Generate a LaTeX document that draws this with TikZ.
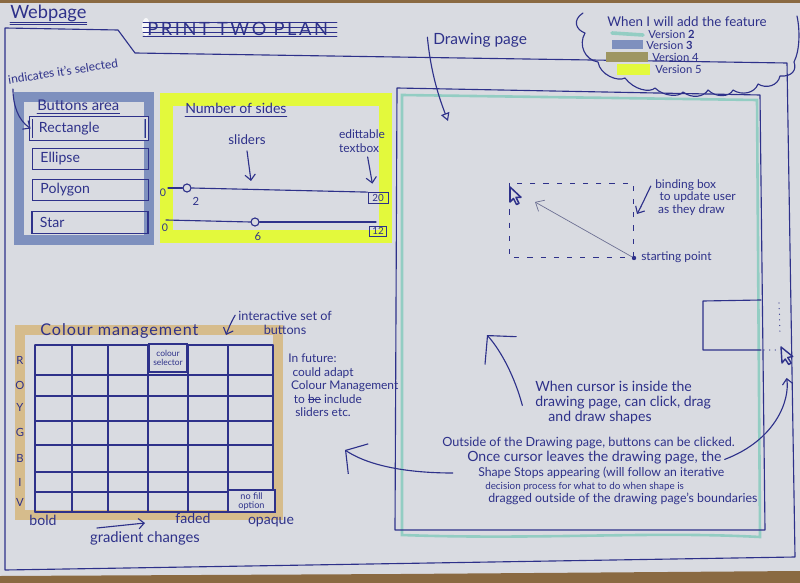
\documentclass[tikz,border=0pt]{standalone}
\usepackage{fontspec}
\setmainfont{Lato}
\usetikzlibrary{arrows.meta}

\definecolor{paper}{HTML}{D9DBE1}
\definecolor{ink}{HTML}{2E318A}
\definecolor{wood}{HTML}{8A6A42}
\definecolor{mteal}{HTML}{93CDC3}
\definecolor{mblue}{HTML}{7E90BE}
\definecolor{molive}{HTML}{9E9662}
\definecolor{myellow}{HTML}{E3F93C}
\definecolor{mtan}{HTML}{D6BC8C}
\definecolor{pencil}{HTML}{6D7093}

% crossed-out word
\newcommand\strikeword[1]{\setbox0\hbox{#1}\rlap{\rule[0.3em]{\wd0}{0.5pt}}#1}

\tikzset{
  pen/.style={draw=ink, line width=0.8pt, line cap=round, line join=round},
  note/.style={text=ink, inner sep=0pt},
  tip/.style={-{Straight Barb[length=0.14cm,width=0.26cm]}},
  bigv/.style={-{Straight Barb[length=0.5cm,width=1.05cm]}},
  midv/.style={-{Straight Barb[length=0.38cm,width=0.9cm]}},
  button/.style={draw=ink, line width=0.8pt, text=ink, minimum height=0.53cm,
    text width=2.5cm, inner xsep=0.2cm, inner ysep=0pt, align=left,
    font=\fontsize{10}{12}\selectfont},
  valbox/.style={draw=ink, line width=0.7pt, text=ink, inner sep=0pt,
    font=\fontsize{7}{8}\selectfont},
  knob/.style={circle, draw=ink, line width=0.8pt, fill=paper,
    minimum size=0.2cm, inner sep=0pt},
  legtext/.style={note, anchor=west, font=\fontsize{8}{9}\selectfont},
}

\begin{document}
\begin{tikzpicture}[x=0.025cm, y=-0.025cm]
\useasboundingbox (0,0) rectangle (800,583);
% sheet and desk
\fill[paper] (0,0) rectangle (800,583);
\fill[wood] (0,0) rectangle (800,3);
\fill[wood] (0,576) -- (400,574) -- (800,571) -- (800,583) -- (0,583) -- cycle;

% ---------- page frame with tab ----------
\draw[pen] (118,30) -- (5,28) -- (5,570) -- (795,557) -- (787,63) -- (135,53) -- cycle;
\node[note, anchor=base west, font=\fontsize{13}{15}\selectfont] (web) at (10,19) {Webpage};
\draw[pen, line width=0.6pt] ([yshift=-2.5pt]web.base west) -- ([yshift=-2.5pt]web.base east);
\draw[pen, line width=0.6pt] ([yshift=-4pt]web.base west) -- ([yshift=-4pt]web.base east);

% crossed-out heading
\fill[white, opacity=0.8] (146,27) ellipse (4 and 9);
\node[note, anchor=west, font=\fontsize{13}{15}\selectfont] (plan) at (147,29)
  {\addfontfeature{LetterSpace=14}PRINT TWO PLAN};
\foreach \yy in {22,27,32,36}
  \draw[pen, line width=0.6pt] (143,\yy) -- (337,\yy);

% ---------- legend cloud ----------
\draw[pen] (583,13) .. controls (572,20) and (576,30) .. (585,33)
  .. controls (578,45) and (585,60) .. (598,62)
  .. controls (600,75) and (618,82) .. (625,78)
  .. controls (634,90) and (650,93) .. (655,88)
  .. controls (664,97) and (680,97) .. (683,92)
  .. controls (692,99) and (704,97) .. (708,90)
  .. controls (716,98) and (730,97) .. (733,90)
  .. controls (742,96) and (755,93) .. (758,84)
  .. controls (766,89) and (778,86) .. (780,76)
  .. controls (792,77) and (797,70) .. (794,62)
  .. controls (800,50) and (800,30) .. (797,16);
\node[note, anchor=west, font=\fontsize{9.5}{11}\selectfont] (legtitle) at (607,22) {When I will add the feature};
\draw[mteal, line width=0.09cm, line cap=round] (612,33) -- (643,35);
\fill[mblue] (612,40) rectangle (643,49);
\fill[molive] (606,52) rectangle (648,62);
\fill[myellow] (617,64) rectangle (650,75);
\node[legtext] (v2) at (648,34) {Version \textbf{2}};
\node[legtext] (v3) at (646,45.5) {Version \textbf{3}};
\node[legtext] (v4) at (652,57.5) {Version 4};
\node[legtext] (v5) at (655,69.5) {Version 5};

% ---------- buttons area ----------
\draw[mblue, line width=0.25cm] (19,97) rectangle (149,240);
\node[note, anchor=base west, font=\fontsize{10.5}{12}\selectfont] (btitle) at (37,111) {Buttons area};
\draw[pen, line width=0.6pt] ([yshift=-2pt]btitle.base west) -- ([yshift=-2pt]btitle.base east);
\node[button, line width=0.6pt, double=paper, double distance=1pt] (brect) at (89,128.5) {Rectangle};
\node[button] (bell) at (90.5,159) {Ellipse};
\node[button] (bpoly) at (90.5,190) {Polygon};
\node[button] (bstar) at (90,222.5) {Star};
\node[note, anchor=west, rotate=9, font=\fontsize{8.5}{10}\selectfont] (sel) at (8,80) {indicates it's selected};
\draw[pen, tip] ([xshift=3pt,yshift=-3pt]sel.south west) .. controls (13,105) and (18,120) .. (brect.west);

% ---------- number of sides ----------
\draw[myellow, line width=0.325cm] (166.5,99.5) rectangle (385.5,236.5);
\node[note, anchor=base west, font=\fontsize{10}{12}\selectfont] (nsides) at (185,114) {Number of sides};
\draw[pen, line width=0.6pt] ([yshift=-2pt]nsides.base west) -- ([yshift=-2pt]nsides.base east);
\node[note, font=\fontsize{9.5}{11}\selectfont] (sliders) at (247,140) {sliders};
\coordinate (slidertip) at (251,181);
\draw[pen, tip] ([yshift=-4pt]sliders.south) -- (slidertip);
\node[note, align=left, font=\fontsize{8.5}{10}\selectfont] (edit) at (362,141) {edittable\\textbox};
% first slider
\node[valbox, minimum width=0.5cm, minimum height=0.27cm] (box1) at (378,198) {20};
\node[knob] (knob1) at (187,188) {};
\coordinate (s1l) at (168,188);
\draw[pen] (s1l) -- (knob1.west);
\draw[pen] (knob1.east) -- (box1.north west);
\draw[pen, tip] ([xshift=4pt,yshift=-3pt]edit.south) -- ([xshift=-4pt,yshift=6pt]box1.north);
\node[note, font=\fontsize{7.5}{8}\selectfont] (min1) at (163,193) {0};
\node[note, font=\fontsize{8}{9}\selectfont] (val1) at (196,201) {2};
% second slider
\node[valbox, minimum width=0.42cm, minimum height=0.25cm] (box2) at (378,231) {12};
\node[knob] (knob2) at (255,222) {};
\coordinate (s2l) at (166,220);
\coordinate (s2r) at (376,222);
\draw[pen] (s2l) -- (knob2.west);
\draw[pen] (knob2.east) -- (s2r);
\node[note, font=\fontsize{7.5}{8}\selectfont] (min2) at (165,228) {0};
\node[note, font=\fontsize{8}{9}\selectfont] (val2) at (258,237) {6};

% ---------- colour management ----------
\draw[mtan, line width=0.25cm] (20,330) rectangle (278,515);
\foreach \x in {35,72,108,148,188,228,273}
  \draw[pen] (\x,345) -- (\x,512);
\foreach \y in {345,375,396,421,445,472,492,512}
  \draw[pen] (35,\y) -- (273,\y);
\foreach \lab/\y in {R/360,O/385,Y/407,G/432,B/458,I/482,V/502}
  \node[note, font=\fontsize{8}{9}\selectfont] (row\lab) at (20,\y) {\lab};
\node[draw=ink, line width=1.1pt, fill=paper, minimum width=0.95cm, minimum height=0.7cm,
  inner sep=0pt, align=center, text=ink, font=\fontsize{6}{6.5}\selectfont] (csel) at (168,358) {colour\\selector};
\node[draw=ink, line width=1pt, fill=paper, minimum width=1.175cm, minimum height=0.55cm,
  inner sep=0pt, align=center, text=ink, font=\fontsize{6.5}{6.5}\selectfont] (nofill) at (251.5,501) {no fill\\option};
\node[note, anchor=west, font=\fontsize{11.5}{13}\selectfont] (ctitle) at (40,331)
  {\addfontfeature{LetterSpace=6}Colour management};
\node[note, align=center, font=\fontsize{9}{10}\selectfont] (inter) at (285,323) {interactive set of\\buttons};
\coordinate (intertip) at (226,335);
\draw[pen, tip] ([xshift=-2pt,yshift=-3pt]inter.north west) .. controls (230,324) and (228,330) .. (intertip);
\node[note, align=left, anchor=north west, font=\fontsize{8.5}{9.6}\selectfont] (future) at (288,354)
  {In future:\\\hspace*{3pt}could adapt\\\hspace*{2pt}Colour Management\\\hspace*{4pt}to \strikeword{be} include\\\hspace*{5pt}sliders etc.};
\node[note, font=\fontsize{10}{11}\selectfont] (bold) at (43,520) {bold};
\node[note, font=\fontsize{10}{11}\selectfont] (faded) at (193,518) {faded};
\node[note, font=\fontsize{10}{11}\selectfont] (opaque) at (271,522) {opaque};
\node[note, font=\fontsize{10.5}{12}\selectfont] (grad) at (145,538) {gradient changes};
\coordinate (gradtail) at (97,528);
\coordinate (gradhead) at (145,523);
\draw[pen, tip] (gradtail) -- (gradhead);

% ---------- drawing page ----------
\draw[mteal, line width=0.065cm, line cap=round]
  (402,95) -- (757,100) -- (760,537) .. controls (650,531) and (540,540) .. (402,535) -- cycle;
\draw[pen] (397,88) -- (760,95) -- (765,530) -- (395,530) -- cycle;
\node[note, anchor=west, font=\fontsize{11}{13}\selectfont] (dp) at (433,40) {Drawing page};
\coordinate (dptip) at (448,121);
\draw[pen, -{Triangle[open, length=0.2cm, width=0.22cm]}]
  ([xshift=-4pt,yshift=2pt]dp.west) .. controls (431,75) and (440,100) .. (dptip);

% bounding box feedback while drawing
\draw[ink, line width=0.7pt, dash pattern=on 0.13cm off 0.2cm] (509,183) rectangle (633,257);
\node[circle, fill=ink, inner sep=0pt, minimum size=0.11cm] (start) at (634,258) {};
\node[note, anchor=west, font=\fontsize{8.5}{10}\selectfont] (stxt) at (641,257) {starting point};
\coordinate (cur1) at (510,187);
\draw[pen, line width=1.1pt, fill=paper] (cur1) -- ++(0,15) -- ++(3.5,-3.5) -- ++(3,6) -- ++(2.5,-1.2)
  -- ++(-3,-6) -- ++(5,0) -- cycle;
\coordinate (drag) at (535,202);
\draw[pencil, line width=0.5pt, -{Straight Barb[length=0.18cm,width=0.32cm]}] (start) -- (drag);
\node[note, align=left, anchor=north west, font=\fontsize{8.5}{9}\selectfont] (bbox) at (655,179)
  {binding box\\\hspace*{3pt}to update user\\\hspace*{2pt}as they draw};
\coordinate (bbtip) at (637,214);
\draw[pen, tip] ([xshift=-3pt,yshift=-5pt]bbox.north west) .. controls (645,198) and (641,207) .. (bbtip);

% shape pushed against the edge and the cursor outside
\draw[pen] (761,300) -- (703,301) -- (703,350) -- (761,350);
\draw[ink, line width=0.9pt, line cap=round, dash pattern=on 0pt off 4pt] (779,303) -- (780,333);
\draw[ink, line width=0.9pt, line cap=round, dash pattern=on 0pt off 4pt] (764,350) -- (776,350);
\coordinate (cur2) at (781,347);
\draw[pen, line width=1pt, fill=paper] (cur2) -- ++(1,16) -- ++(3.2,-4) -- ++(3.5,5.5) -- ++(2.5,-1.5)
  -- ++(-3.5,-5.5) -- ++(5,-1) -- cycle;

% notes on behaviour
\node[note, align=left, anchor=north west, font=\fontsize{10}{10.6}\selectfont] (inside) at (535,381)
  {When cursor is inside the\\drawing page, can click, drag\\\hspace*{0.33cm}and draw shapes};
\coordinate (insidetip) at (487,335);
\draw[pen, bigv] ([xshift=-9pt,yshift=-2pt]inside.west) .. controls (515,378) and (502,352) .. (insidetip);

\node[note, anchor=west, font=\fontsize{9}{10}\selectfont] (o1) at (442,443) {Outside of the Drawing page, buttons can be clicked.};
\node[note, anchor=west, font=\fontsize{10}{11}\selectfont] (o2) at (467,458) {Once cursor leaves the drawing page, the};
\node[note, anchor=west, font=\fontsize{8.7}{10}\selectfont] (o3) at (478,473) {Shape Stops appearing (will follow an iterative};
\node[note, anchor=west, font=\fontsize{7}{8}\selectfont] (o4) at (485,487) {decision process for what to do when shape is};
\node[note, anchor=west, font=\fontsize{8.8}{10}\selectfont] (o5) at (488,499) {dragged outside of the drawing page's boundaries};
\coordinate (lefttip) at (345,450);
\draw[pen, midv] ([xshift=-18pt]o3.west) .. controls (415,473) and (372,468) .. (lefttip);
\draw[pen, tip] ([xshift=2pt,yshift=-1pt]o2.east) .. controls (776,440) and (790,400) .. ([xshift=4pt,yshift=-22pt]cur2);
\end{tikzpicture}
\end{document}
